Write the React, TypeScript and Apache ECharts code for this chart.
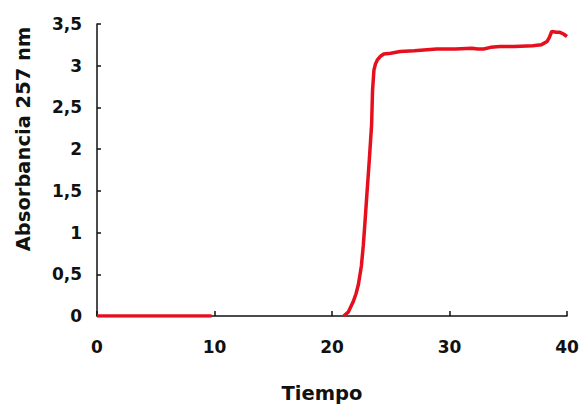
import React, { useEffect, useRef } from "react";
import * as echarts from "echarts";

const xTicks = [0, 10, 20, 30, 40];
const yTicks = [0, 0.5, 1, 1.5, 2, 2.5, 3, 3.5];

// Baseline segment (before the gap)
const baseTime = [0, 9.75];
const baseAbs = [0, 0];

// Rising segment
const riseTime = [21.0, 21.4, 21.8, 22.05, 22.25, 22.5, 22.66, 22.8, 22.95, 23.17, 23.37, 23.45, 23.57, 23.7, 23.86, 24.1, 24.4, 25.0, 25.8, 27.0, 28.9, 30.5, 31.9, 32.4, 32.9, 33.5, 34.3, 35.5, 37.1, 37.8, 38.3, 38.5, 38.7, 39.1, 39.4, 39.7, 40.0];
const riseAbs = [0.0, 0.05, 0.17, 0.27, 0.38, 0.6, 0.84, 1.11, 1.42, 1.86, 2.29, 2.7, 2.95, 3.02, 3.07, 3.11, 3.14, 3.15, 3.17, 3.18, 3.2, 3.2, 3.21, 3.2, 3.2, 3.22, 3.23, 3.23, 3.24, 3.25, 3.29, 3.34, 3.41, 3.4, 3.4, 3.38, 3.35];

const RED = "#e60f1e";
const FONT = "DejaVu Sans";

export default function App() {
  const ref = useRef<HTMLDivElement>(null);
  useEffect(() => {
    if (!ref.current) return;
    const chart = echarts.init(ref.current, undefined, { renderer: "svg" });
    const toPairs = (xs: number[], ys: number[]) => xs.map((x, i) => [x, ys[i]]);
    chart.setOption({
      animation: false,
      backgroundColor: "#ffffff",
      grid: { left: 97, right: 16, top: 24, bottom: 87, containLabel: false },
      xAxis: {
        type: "value",
        min: xTicks[0],
        max: xTicks[xTicks.length - 1],
        interval: 10,
        name: "Tiempo",
        nameLocation: "middle",
        nameGap: 67,
        nameTextStyle: { fontFamily: FONT, fontWeight: "bold", fontSize: 19.5, color: "#111", padding: [0, 20, 0, 0] },
        axisLine: { lineStyle: { color: "#111", width: 1.5 } },
        axisTick: { inside: true, length: 5, lineStyle: { color: "#111", width: 1.5 } },
        axisLabel: { fontFamily: FONT, fontWeight: "bold", fontSize: 17, color: "#111", margin: 22 },
        splitLine: { show: false },
      },
      yAxis: {
        type: "value",
        min: yTicks[0],
        max: yTicks[yTicks.length - 1],
        interval: 0.5,
        name: "Absorbancia 257 nm",
        nameLocation: "middle",
        nameRotate: 90,
        nameGap: 64,
        nameTextStyle: { fontFamily: FONT, fontWeight: "bold", fontSize: 19.5, color: "#111", padding: [0, 0, 0, 62] },
        axisLine: { show: true, lineStyle: { color: "#111", width: 1.5 } },
        axisTick: { show: true, inside: true, length: 4, lineStyle: { color: "#111", width: 1.5 } },
        axisLabel: {
          fontFamily: FONT,
          fontWeight: "bold",
          fontSize: 17,
          color: "#111",
          margin: 15,
          formatter: (v: number) => String(v).replace(".", ","),
        },
        splitLine: { show: false },
      },
      series: [
        {
          type: "line",
          data: toPairs(baseTime, baseAbs),
          showSymbol: false,
          lineStyle: { color: RED, width: 3.5 },
          z: 5,
        },
        {
          type: "line",
          data: toPairs(riseTime, riseAbs),
          showSymbol: false,
          lineStyle: { color: RED, width: 3.5 },
          z: 5,
        },
      ],
    });
    return () => chart.dispose();
  }, []);
  return <div ref={ref} style={{ width: 583, height: 408, position: "absolute", left: 0, top: 0 }} />;
}
